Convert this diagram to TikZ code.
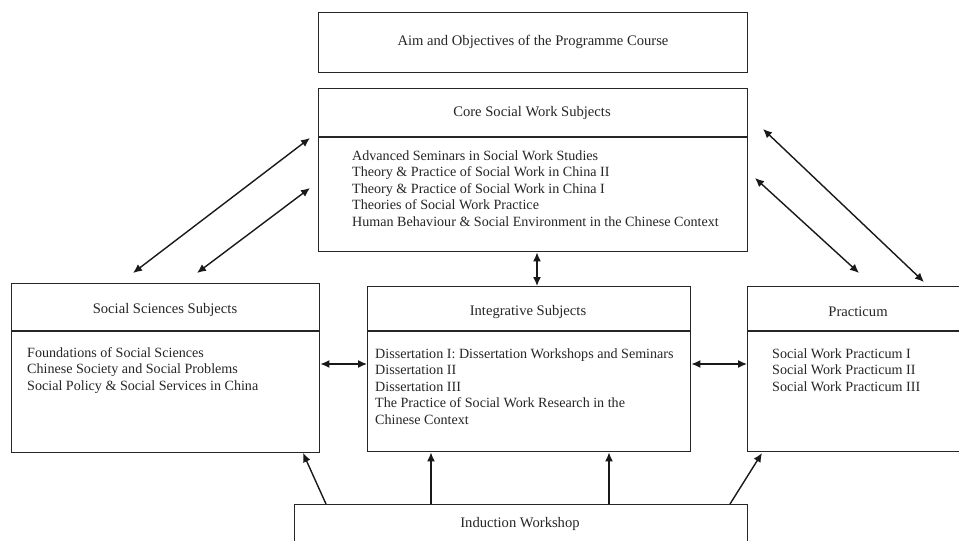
\documentclass[tikz,border=0pt]{standalone}
\usepackage{fontspec}
\setmainfont{Liberation Serif}
\usetikzlibrary{arrows.meta}
\begin{document}
\begin{tikzpicture}[x=1pt,y=-1pt,
  box/.style={draw=black!85,line width=1.4pt,rectangle,inner sep=0pt,anchor=north west},
  divider/.style={draw=black!85,line width=1.4pt},
  title/.style={font=\fontsize{14.6}{17}\selectfont,text=black!85,inner sep=0pt},
  body/.style={font=\fontsize{14.1}{16.5}\selectfont,text=black!85,align=left,inner sep=0pt,anchor=north west},
  conn/.style={draw=black!90,line width=1.4pt},
  dbl/.style={conn,{Latex[length=9pt,width=8pt]}-{Latex[length=9pt,width=8pt]}},
  sgl/.style={conn,-{Latex[length=9pt,width=8pt]}}
]
\useasboundingbox (0,0) rectangle (959,541);
\clip (0,0) rectangle (959,541);
\fill[white] (0,0) rectangle (959,541);

% Aim box
\node[box,minimum width=429pt,minimum height=60pt] (aim) at (318,12) {};
\node[title] (aimt) at (533,42) {Aim and Objectives of the Programme Course};

% Core box
\node[box,minimum width=429pt,minimum height=163pt] (core) at (318,88) {};
\draw[divider] (core.west |- 0,137) -- (core.east |- 0,137);
\node[title] (coret) at (532,113) {Core Social Work Subjects};
\node[body] (coreb) at (352,148.5) {\strut Advanced Seminars in Social Work Studies\\
Theory \& Practice of Social Work in China II\\
Theory \& Practice of Social Work in China I\\
Theories of Social Work Practice\\
Human Behaviour \& Social Environment in the Chinese Context};

% Social Sciences box
\node[box,minimum width=308pt,minimum height=169pt] (soc) at (11,283) {};
\draw[divider] (soc.west |- 0,331) -- (soc.east |- 0,331);
\node[title] (soct) at (165,310) {Social Sciences Subjects};
\node[body] (socb) at (27,345.5) {\strut Foundations of Social Sciences\\
Chinese Society and Social Problems\\
Social Policy \& Social Services in China};

% Integrative box
\node[box,minimum width=323pt,minimum height=165pt] (integ) at (367,286) {};
\draw[divider] (integ.west |- 0,331) -- (integ.east |- 0,331);
\node[title] (integt) at (528,312) {Integrative Subjects};
\node[body] (integb) at (375,346.5) {\strut Dissertation I: Dissertation Workshops and Seminars\\
Dissertation II\\
Dissertation III\\
The Practice of Social Work Research in the\\
Chinese Context};

% Practicum box (extends past right edge)
\node[box,minimum width=224pt,minimum height=165pt] (prac) at (747,286) {};
\draw[divider] (prac.west |- 0,331) -- (prac.east |- 0,331);
\node[title] (pract) at (858,312) {Practicum};
\node[body] (pracb) at (772,346.5) {\strut Social Work Practicum I\\
Social Work Practicum II\\
Social Work Practicum III};

% Induction box (extends past bottom edge)
\node[box,minimum width=453pt,minimum height=60pt] (ind) at (294,504) {};
\node[title] (indt) at (520,524) {Induction Workshop};

% Connector end points
\coordinate (l1a) at (133,273); \coordinate (l1b) at (310,138);
\coordinate (l2a) at (197,273); \coordinate (l2b) at (310,188);
\coordinate (r1a) at (763,129); \coordinate (r1b) at (924,282);
\coordinate (r2a) at (755,178); \coordinate (r2b) at (859,273);
\coordinate (i1a) at (326,504); \coordinate (i1b) at (303,453);
\coordinate (i4a) at (730,504); \coordinate (i4b) at (762,453);

% Connectors
\draw[dbl] (l1a) -- (l1b);
\draw[dbl] (l2a) -- (l2b);
\draw[dbl] (r1a) -- (r1b);
\draw[dbl] (r2a) -- (r2b);
\draw[dbl] (core.south -| 537,0) -- (integ.north -| 537,0);
\draw[dbl] (soc.east |- 0,364) -- (integ.west |- 0,364);
\draw[dbl] (integ.east |- 0,364) -- (prac.west |- 0,364);
\draw[sgl] (i1a) -- (i1b);
\draw[sgl] (ind.north -| 431,0) -- (integ.south -| 431,0);
\draw[sgl] (ind.north -| 609,0) -- (integ.south -| 609,0);
\draw[sgl] (i4a) -- (i4b);
\end{tikzpicture}
\end{document}
